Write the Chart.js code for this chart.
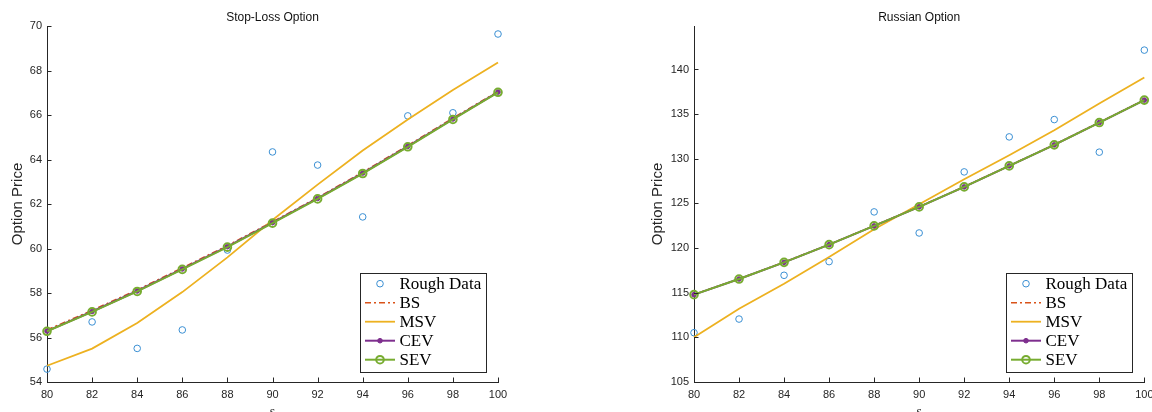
<!DOCTYPE html>
<html>
<head>
<meta charset="utf-8">
<script src="https://cdn.jsdelivr.net/npm/chart.js@4/dist/chart.umd.min.js"></script>
<style>
  html, body { margin: 0; padding: 0; background: #fff; overflow: hidden; width: 1152px; height: 412px; }
  canvas { position: absolute; top: 0; }
  #stopLoss { left: 0; }
  #russian { left: 640px; }
</style>
</head>
<body>
<canvas id="stopLoss" width="576" height="430"></canvas>
<canvas id="russian" width="520" height="430"></canvas>
<script>
// valores de s (eixo x)
const sVals = [80, 82, 84, 86, 88, 90, 92, 94, 96, 98, 100];

// Stop-Loss Option
const roughSL = [54.58, 56.70, 55.51, 56.34, 59.93, 64.34, 63.75, 61.42, 65.96, 66.10, 69.64];
const bsSL    = [56.34, 57.22, 58.14, 59.13, 60.13, 61.20, 62.29, 63.43, 64.63, 65.86, 67.06];
const msvSL   = [54.73, 55.50, 56.65, 58.04, 59.60, 61.28, 62.87, 64.40, 65.80, 67.12, 68.36];
const cevSL   = [56.29, 57.17, 58.09, 59.08, 60.08, 61.16, 62.25, 63.39, 64.59, 65.82, 67.03];
const sevSL   = [56.28, 57.15, 58.07, 59.06, 60.06, 61.14, 62.23, 63.37, 64.57, 65.80, 67.02];

// Russian Option
const roughR = [110.52, 112.05, 116.95, 118.48, 124.05, 121.69, 128.53, 132.45, 134.39, 130.74, 142.17];
const bsR    = [114.80, 116.55, 118.42, 120.40, 122.50, 124.63, 126.87, 129.22, 131.58, 134.08, 136.59];
const msvR   = [110.00, 113.20, 116.00, 119.00, 122.10, 124.90, 127.70, 130.40, 133.20, 136.20, 139.10];
const cevR   = [114.78, 116.53, 118.40, 120.38, 122.48, 124.61, 126.85, 129.20, 131.56, 134.06, 136.57];
const sevR   = [114.78, 116.53, 118.40, 120.38, 122.48, 124.61, 126.85, 129.20, 131.56, 134.06, 136.57];

const legendNames = ['Rough Data', 'BS', 'MSV', 'CEV', 'SEV'];

const axisColor = '#262626';
const sansFont = '"Liberation Sans", Arial, Helvetica, sans-serif';
const serifFont = '"Liberation Serif", "Times New Roman", serif';

function pontos(valores) {
    return sVals.map((s, i) => ({ x: s, y: valores[i] }));
}

// ticks para dentro, estilo MATLAB
const inTicks = {
    id: 'inTicks',
    afterDatasetsDraw(chart) {
        const { ctx, scales: { x, y } } = chart;
        ctx.save();
        ctx.strokeStyle = axisColor;
        ctx.lineWidth = 1;
        ctx.beginPath();
        x.ticks.forEach(t => {
            const px = Math.round(x.getPixelForValue(t.value)) + 0.5;
            ctx.moveTo(px, y.bottom);
            ctx.lineTo(px, y.bottom - 4.5);
        });
        y.ticks.forEach(t => {
            const py = Math.round(y.getPixelForValue(t.value)) + 0.5;
            ctx.moveTo(x.left, py);
            ctx.lineTo(x.left + 4.5, py);
        });
        ctx.stroke();
        ctx.restore();
    }
};

// legenda em caixa no canto inferior direito
const boxLegend = {
    id: 'boxLegend',
    afterDraw(chart) {
        const { ctx, chartArea } = chart;
        const w = 126, h = 99;
        const x0 = Math.round(chartArea.right - 12 - w);
        const y0 = Math.round(chartArea.bottom - 10 - h);
        ctx.save();
        ctx.fillStyle = '#fff';
        ctx.fillRect(x0, y0, w, h);
        ctx.strokeStyle = axisColor;
        ctx.lineWidth = 1;
        ctx.strokeRect(x0 + 0.5, y0 + 0.5, w, h);

        chart.data.datasets.forEach((ds, i) => {
            const cy = y0 + 10.7 + i * 19;
            const cx = x0 + 20;
            if (ds.showLine !== false) {
                ctx.beginPath();
                ctx.strokeStyle = ds.borderColor;
                ctx.lineWidth = ds.borderWidth;
                ctx.setLineDash(ds.borderDash || []);
                ctx.moveTo(x0 + 5, cy);
                ctx.lineTo(x0 + 35, cy);
                ctx.stroke();
                ctx.setLineDash([]);
            }
            if (ds.pointRadius > 0) {
                ctx.beginPath();
                ctx.arc(cx, cy, ds.pointRadius, 0, Math.PI * 2);
                if (ds.pointBackgroundColor && ds.pointBackgroundColor !== 'transparent') {
                    ctx.fillStyle = ds.pointBackgroundColor;
                    ctx.fill();
                }
                ctx.strokeStyle = ds.pointBorderColor;
                ctx.lineWidth = ds.pointBorderWidth;
                ctx.stroke();
            }
            ctx.fillStyle = '#000';
            ctx.font = '17px ' + serifFont;
            ctx.textBaseline = 'middle';
            ctx.textAlign = 'left';
            ctx.fillText(legendNames[i], x0 + 39.5, cy + 1);
        });
        ctx.restore();
    }
};

function criarGrafico(id, titulo, series, yMin, yMax, yStep, yWidth, padRight) {
    const [rough, bs, msv, cev, sev] = series;
    return new Chart(document.getElementById(id), {
        type: 'line',
        data: {
            datasets: [
                {
                    data: pontos(rough), showLine: false, order: 5, clip: false,
                    pointRadius: 3.3, pointBorderWidth: 1,
                    pointBorderColor: '#3a8fd3', pointBackgroundColor: 'transparent',
                    borderColor: '#3a8fd3', borderWidth: 1
                },
                {
                    data: pontos(bs), order: 4, clip: false,
                    borderColor: '#D95319', borderWidth: 1.5, borderDash: [6, 3, 2, 3],
                    pointRadius: 0
                },
                {
                    data: pontos(msv), order: 3, clip: false,
                    borderColor: '#EDB120', borderWidth: 1.8,
                    pointRadius: 0
                },
                {
                    data: pontos(cev), order: 2, clip: false,
                    borderColor: '#7E2F8E', borderWidth: 2,
                    pointRadius: 2.3, pointBorderWidth: 1,
                    pointBorderColor: '#7E2F8E', pointBackgroundColor: '#7E2F8E'
                },
                {
                    data: pontos(sev), order: 1, clip: false,
                    borderColor: '#77AC30', borderWidth: 2,
                    pointRadius: 3.8, pointBorderWidth: 2,
                    pointBorderColor: '#77AC30', pointBackgroundColor: 'transparent'
                }
            ]
        },
        options: {
            responsive: false,
            animation: false,
            layout: { padding: { left: 0, right: padRight, top: 0, bottom: 0 } },
            elements: { line: { tension: 0 } },
            plugins: {
                legend: { display: false },
                tooltip: { enabled: false },
                title: {
                    display: true,
                    text: titulo,
                    fullSize: false,
                    color: '#111',
                    font: { family: sansFont, size: 12, weight: 'normal', lineHeight: 1.2 },
                    padding: { top: 10.5, bottom: 1.1 }
                }
            },
            scales: {
                x: {
                    type: 'linear',
                    min: 80, max: 100,
                    grid: { display: false, drawTicks: false },
                    border: { display: true, color: axisColor, width: 1 },
                    ticks: {
                        stepSize: 2, padding: 6.5, color: axisColor, maxRotation: 0,
                        font: { family: sansFont, size: 11 }
                    },
                    title: {
                        display: true, text: 's', color: axisColor,
                        font: { family: serifFont, size: 14 },
                        padding: { top: 0, bottom: 9 }
                    },
                    afterFit(scale) { scale.height = 48; }
                },
                y: {
                    type: 'linear',
                    min: yMin, max: yMax,
                    grid: { display: false, drawTicks: false },
                    border: { display: true, color: axisColor, width: 1 },
                    ticks: {
                        stepSize: yStep, padding: 5, color: axisColor, includeBounds: false,
                        font: { family: sansFont, size: 11 }
                    },
                    title: {
                        display: true, text: 'Option Price', color: axisColor,
                        font: { family: sansFont, size: 15 },
                        padding: { top: 9, bottom: 0 }
                    },
                    afterFit(scale) { scale.width = yWidth; }
                }
            }
        },
        plugins: [inTicks, boxLegend]
    });
}

criarGrafico('stopLoss', 'Stop-Loss Option', [roughSL, bsSL, msvSL, cevSL, sevSL], 54, 70, 2, 47, 78);
criarGrafico('russian', 'Russian Option', [roughR, bsR, msvR, cevR, sevR], 105, 144.87, 5, 54, 15);
</script>
</body>
</html>
